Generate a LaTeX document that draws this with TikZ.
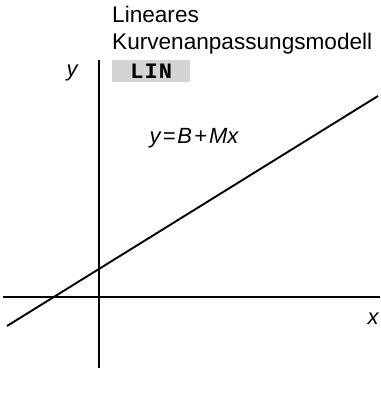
\documentclass[tikz,border=0pt]{standalone}
\usepackage{fontspec}
\setmainfont{Liberation Sans}
\newfontfamily\keyfont{Liberation Mono}
\usetikzlibrary{positioning}
\tikzset{
  axis/.style={line width=2.1pt},
  fitline/.style={line width=1.9pt},
  lbl/.style={inner sep=0pt,font=\fontsize{22.6}{26}\selectfont},
  var/.style={inner sep=0pt,font=\itshape\fontsize{22}{26}\selectfont},
  keycap/.style={fill=black!17,inner sep=0pt,minimum width=78pt,minimum height=22pt,
    font=\keyfont\bfseries\fontsize{22}{22}\selectfont}
}

\begin{document}
\begin{tikzpicture}[x=1pt,y=-1pt]
\useasboundingbox (0,0) rectangle (380,396);
% title and key
\node[lbl,anchor=base west] (title1) at (112,23) {Lineares};
\node[lbl,anchor=base west] (title2) at (112,49) {Kurvenanpassungsmodell};
\node[keycap,anchor=north west] (key) at (112,60) {L\hspace{1pt}I\hspace{1pt}N};
% axes
\coordinate (ytop) at (99,60);
\coordinate (ybot) at (99,368);
\coordinate (xleft) at (3,297);
\coordinate (xright) at (380,297);
\draw[axis] (ytop) -- (ybot);
\draw[axis] (xleft) -- (xright);
\node[var] (ylab) at (72,73) {y};
\node[var] (xlab) at (373,319) {x};
% fitted line
\coordinate (lstart) at (7,326);
\coordinate (lend) at (378,96);
\draw[fitline] (lstart) -- (lend);
\node[var] (eq) at (194,138) {y\hspace{2pt}=\hspace{2pt}B\hspace{2pt}+\hspace{2pt}Mx};
\end{tikzpicture}
\end{document}
